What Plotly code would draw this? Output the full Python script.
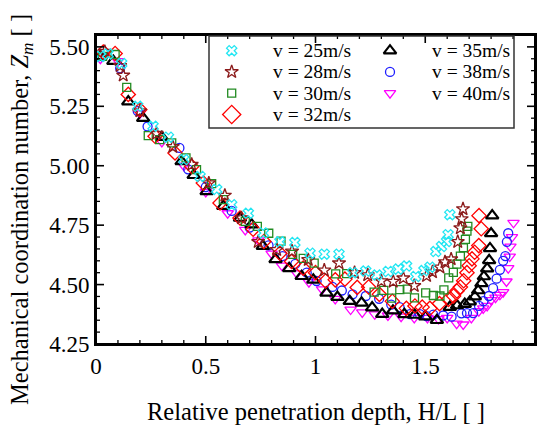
import plotly.graph_objects as go

# ---------------- data ----------------
x25 = [0.02, 0.055, 0.117, 0.19, 0.26, 0.33, 0.40, 0.474, 0.55, 0.618, 0.694, 0.762, 0.838, 0.906, 0.975, 1.04, 1.107, 1.169, 1.229, 1.28, 1.331, 1.377, 1.415, 1.457, 1.494, 1.521, 1.548, 1.574, 1.597, 1.604, 1.612]
y25 = [5.46, 5.47, 5.43, 5.25, 5.166, 5.12, 5.026, 4.955, 4.90, 4.836, 4.80, 4.717, 4.68, 4.677, 4.632, 4.628, 4.628, 4.55, 4.557, 4.54, 4.555, 4.565, 4.578, 4.534, 4.559, 4.573, 4.639, 4.66, 4.681, 4.71, 4.794]

x28 = [0.04, 0.11, 0.124, 0.20, 0.276, 0.35, 0.436, 0.514, 0.587, 0.663, 0.739, 0.823, 0.893, 0.967, 1.04, 1.107, 1.178, 1.238, 1.30, 1.354, 1.40, 1.45, 1.506, 1.533, 1.567, 1.59, 1.618, 1.648, 1.66, 1.666, 1.672]
y28 = [5.48, 5.42, 5.38, 5.23, 5.135, 5.08, 5.005, 4.927, 4.875, 4.78, 4.68, 4.646, 4.64, 4.604, 4.56, 4.59, 4.55, 4.54, 4.515, 4.513, 4.527, 4.495, 4.537, 4.553, 4.573, 4.595, 4.607, 4.68, 4.738, 4.776, 4.818]

x30 = [0.03, 0.087, 0.14, 0.238, 0.29, 0.345, 0.41, 0.458, 0.527, 0.58, 0.68, 0.735, 0.787, 0.843, 0.896, 0.944, 0.994, 1.092, 1.142, 1.267, 1.311, 1.347, 1.384, 1.418, 1.451, 1.502, 1.537, 1.567, 1.585, 1.607, 1.628, 1.644, 1.66, 1.674, 1.683, 1.69, 1.694]
y30 = [5.46, 5.468, 5.33, 5.127, 5.11, 5.096, 5.033, 4.984, 4.925, 4.857, 4.766, 4.745, 4.716, 4.683, 4.627, 4.61, 4.59, 4.545, 4.546, 4.468, 4.476, 4.443, 4.479, 4.481, 4.444, 4.465, 4.454, 4.452, 4.478, 4.528, 4.551, 4.586, 4.62, 4.655, 4.69, 4.725, 4.745]

x32 = [0.033, 0.087, 0.147, 0.20, 0.269, 0.36, 0.436, 0.489, 0.565, 0.656, 0.716, 0.765, 0.838, 0.891, 0.944, 1.0, 1.046, 1.09, 1.134, 1.19, 1.242, 1.291, 1.35, 1.414, 1.453, 1.486, 1.521, 1.565, 1.606, 1.629, 1.644, 1.66, 1.675, 1.69, 1.70, 1.713, 1.725, 1.744, 1.755, 1.745]
y32 = [5.478, 5.472, 5.30, 5.236, 5.124, 5.054, 4.997, 4.927, 4.843, 4.78, 4.733, 4.681, 4.632, 4.597, 4.569, 4.55, 4.515, 4.52, 4.523, 4.488, 4.49, 4.459, 4.43, 4.40, 4.41, 4.405, 4.40, 4.42, 4.438, 4.452, 4.473, 4.49, 4.516, 4.55, 4.579, 4.608, 4.636, 4.664, 4.735, 4.79]

x35 = [0.02, 0.079, 0.147, 0.215, 0.30, 0.39, 0.445, 0.504, 0.58, 0.656, 0.709, 0.76, 0.818, 0.88, 0.937, 0.99, 1.05, 1.10, 1.156, 1.21, 1.258, 1.304, 1.353, 1.405, 1.452, 1.50, 1.553, 1.612, 1.645, 1.68, 1.703, 1.726, 1.741, 1.756, 1.767, 1.782, 1.791, 1.795, 1.80, 1.805]
y35 = [5.46, 5.44, 5.27, 5.20, 5.12, 5.018, 4.96, 4.892, 4.83, 4.78, 4.752, 4.662, 4.606, 4.568, 4.535, 4.52, 4.465, 4.447, 4.43, 4.423, 4.403, 4.376, 4.39, 4.375, 4.372, 4.365, 4.35, 4.405, 4.412, 4.418, 4.428, 4.449, 4.475, 4.505, 4.534, 4.567, 4.602, 4.652, 4.715, 4.79]

x38 = [0.03, 0.11, 0.19, 0.235, 0.38, 0.42, 0.50, 0.618, 0.70, 0.786, 0.85, 0.908, 0.96, 1.005, 1.077, 1.12, 1.169, 1.229, 1.29, 1.345, 1.383, 1.43, 1.475, 1.506, 1.537, 1.582, 1.62, 1.665, 1.69, 1.718, 1.745, 1.765, 1.79, 1.809, 1.825, 1.84, 1.855, 1.865, 1.872, 1.878]
y38 = [5.46, 5.41, 5.23, 5.165, 5.075, 4.985, 4.91, 4.81, 4.74, 4.665, 4.62, 4.587, 4.55, 4.515, 4.49, 4.475, 4.459, 4.452, 4.44, 4.416, 4.405, 4.376, 4.376, 4.367, 4.374, 4.37, 4.365, 4.379, 4.38, 4.38, 4.41, 4.43, 4.452, 4.485, 4.525, 4.562, 4.60, 4.62, 4.68, 4.716]

x40 = [0.02, 0.1, 0.2, 0.3, 0.4, 0.5, 0.6, 0.68, 0.74, 0.80, 0.847, 0.915, 0.97, 1.03, 1.09, 1.16, 1.213, 1.27, 1.33, 1.39, 1.45, 1.51, 1.56, 1.60, 1.643, 1.673, 1.71, 1.744, 1.764, 1.782, 1.80, 1.82, 1.84, 1.855, 1.87, 1.878, 1.885, 1.888, 1.895, 1.902]
y40 = [5.45, 5.44, 5.22, 5.10, 5.00, 4.89, 4.80, 4.73, 4.686, 4.63, 4.58, 4.547, 4.51, 4.48, 4.44, 4.395, 4.383, 4.375, 4.37, 4.365, 4.36, 4.36, 4.355, 4.36, 4.336, 4.332, 4.36, 4.388, 4.40, 4.41, 4.435, 4.445, 4.457, 4.468, 4.513, 4.569, 4.618, 4.66, 4.70, 4.76]

labels = ["v = 25m/s", "v = 28m/s", "v = 30m/s", "v = 32m/s", "v = 35m/s", "v = 38m/s", "v = 40m/s"]
x_major = [0, 0.5, 1, 1.5, 2]
x_minor = [0.1, 0.2, 0.3, 0.4, 0.6, 0.7, 0.8, 0.9, 1.1, 1.2, 1.3, 1.4, 1.6, 1.7, 1.8, 1.9]
y_major = [4.25, 4.50, 4.75, 5.00, 5.25, 5.50]
y_minor = [4.30, 4.35, 4.40, 4.45, 4.55, 4.60, 4.65, 4.70, 4.80, 4.85, 4.90, 4.95,
           5.05, 5.10, 5.15, 5.20, 5.30, 5.35, 5.40, 5.45]
x_title = "Relative penetration depth, H/L [ ]"
y_title = "Mechanical coordination number, <i>Z<sub>m</sub></i> [ ]"

# ---------------- styles / layout ----------------
FONT = "Liberation Serif"
W, H = 538, 427
L, R, T, B = 96, 535, 35, 344          # plot area in pixels
XR = [0, 2]
YR = [4.25, 5.55]
MAJ, MIN = 8, 4                        # tick lengths in px

styles = {
    "v = 25m/s": dict(symbol="x-open", color="#22E6F2", size=9, lw=1.3),
    "v = 28m/s": dict(symbol="star-open", color="#8B1A1A", size=10, lw=1.3),
    "v = 30m/s": dict(symbol="square-open", color="#228B22", size=8, lw=1.3),
    "v = 32m/s": dict(symbol="diamond-open", color="#FF0000", size=11, lw=1.3),
    "v = 35m/s": dict(symbol="triangle-up-open", color="#000000", size=11, lw=2.2),
    "v = 38m/s": dict(symbol="circle-open", color="#1E1EFF", size=9, lw=1.3),
    "v = 40m/s": dict(symbol="triangle-down-open", color="#FF00FF", size=10, lw=1.3),
}
series = {
    "v = 25m/s": (x25, y25), "v = 28m/s": (x28, y28), "v = 30m/s": (x30, y30),
    "v = 32m/s": (x32, y32), "v = 35m/s": (x35, y35), "v = 38m/s": (x38, y38),
    "v = 40m/s": (x40, y40),
}
draw_order = ["v = 40m/s", "v = 38m/s", "v = 35m/s", "v = 32m/s", "v = 30m/s", "v = 28m/s", "v = 25m/s"]


def px2paper(px, py):
    return (px - L) / (R - L), (B - py) / (B - T)


def px2data(px, py):
    u, v = px2paper(px, py)
    return XR[0] + u * (XR[1] - XR[0]), YR[0] + v * (YR[1] - YR[0])


fig = go.Figure()
for name in draw_order:
    xs, ys = series[name]
    st = styles[name]
    fig.add_trace(go.Scatter(
        x=xs, y=ys, mode="markers", name=name, showlegend=False,
        marker=dict(symbol=st["symbol"], size=st["size"], color=st["color"],
                    line=dict(color=st["color"], width=st["lw"])),
        hoverinfo="skip"))

# ---------------- frame and ticks (inside, on all four sides) ----------------
fx = 1.0 / (R - L)   # one pixel in x-paper units
fy = 1.0 / (B - T)   # one pixel in y-paper units
fig.add_shape(type="rect", xref="paper", yref="paper", x0=0, x1=1, y0=0, y1=1,
              line=dict(color="black", width=2), fillcolor="rgba(0,0,0,0)", layer="above")
for vals, ln, wd in ((x_major, MAJ, 1.6), (x_minor, MIN, 1.3)):
    for v in vals:
        xp = (v - XR[0]) / (XR[1] - XR[0])
        for y0, y1 in ((0, ln * fy), (1, 1 - ln * fy)):
            fig.add_shape(type="line", xref="paper", yref="paper", x0=xp, x1=xp, y0=y0, y1=y1,
                          line=dict(color="black", width=wd), layer="above")
for vals, ln, wd in ((y_major, MAJ, 1.6), (y_minor, MIN, 1.3)):
    for v in vals:
        yp = (v - YR[0]) / (YR[1] - YR[0])
        for x0, x1 in ((0, ln * fx), (1, 1 - ln * fx)):
            fig.add_shape(type="line", xref="paper", yref="paper", x0=x0, x1=x1, y0=yp, y1=yp,
                          line=dict(color="black", width=wd), layer="above")

# ---------------- manual legend ----------------
leg_rows = [50.7, 71.9, 93.2, 114.5]
leg_cols = [(231.7, 271), (390, 430)]
leg_layout = [labels[0:4], labels[4:7]]
for ci, col in enumerate(leg_layout):
    mx, tx = leg_cols[ci]
    for ri, name in enumerate(col):
        st = styles[name]
        lx, ly = px2data(mx, leg_rows[ri])
        fig.add_trace(go.Scatter(
            x=[lx], y=[ly], mode="markers", showlegend=False, hoverinfo="skip",
            marker=dict(symbol=st["symbol"], size=st["size"] + (3 if name == "v = 32m/s" else 0),
                        color=st["color"], line=dict(color=st["color"], width=st["lw"]))))
        ax_, ay_ = px2paper(tx, leg_rows[ri])
        fig.add_annotation(x=ax_, y=ay_, xref="paper", yref="paper", text=name,
                           showarrow=False, xanchor="left", yanchor="middle",
                           font=dict(family=FONT, size=19.5, color="black"))
bx0, by0 = px2paper(209, 128)
bx1, by1 = px2paper(514, 36)
fig.add_shape(type="rect", xref="paper", yref="paper", x0=bx0, x1=bx1, y0=by0, y1=by1,
              line=dict(color="#333333", width=1.5), fillcolor="rgba(0,0,0,0)")

# axis titles
tx_, ty_ = px2paper((L + R) / 2, 411)
fig.add_annotation(x=tx_, y=ty_, xref="paper", yref="paper", text=x_title, showarrow=False,
                   xanchor="center", yanchor="middle", borderpad=0,
                   font=dict(family=FONT, size=24.5, color="black"))
tx_, ty_ = px2paper(21, 210)
fig.add_annotation(x=tx_, y=ty_, xref="paper", yref="paper", text=y_title, showarrow=False,
                   textangle=-90, xanchor="center", yanchor="middle", borderpad=0,
                   font=dict(family=FONT, size=24.5, color="black"))

axis_common = dict(showline=True, linecolor="black", linewidth=2, mirror=True,
                   ticks="", showgrid=False, zeroline=False,
                   tickfont=dict(family=FONT, size=23, color="black"))

fig.update_layout(
    width=W, height=H,
    margin=dict(l=L, r=W - R, t=T, b=H - B, autoexpand=False),
    paper_bgcolor="white", plot_bgcolor="white",
    font=dict(family=FONT, color="black"),
    xaxis=dict(range=XR, tickmode="array", tickvals=x_major,
               ticktext=["0", "0.5", "1", "1.5", "2"], **axis_common),
    yaxis=dict(range=YR, tickmode="array", tickvals=y_major,
               ticktext=["%.2f" % v for v in y_major], **axis_common),
)

fig.write_html("out.html", config={"displayModeBar": False},
               post_script="document.body.style.margin='0px';")
